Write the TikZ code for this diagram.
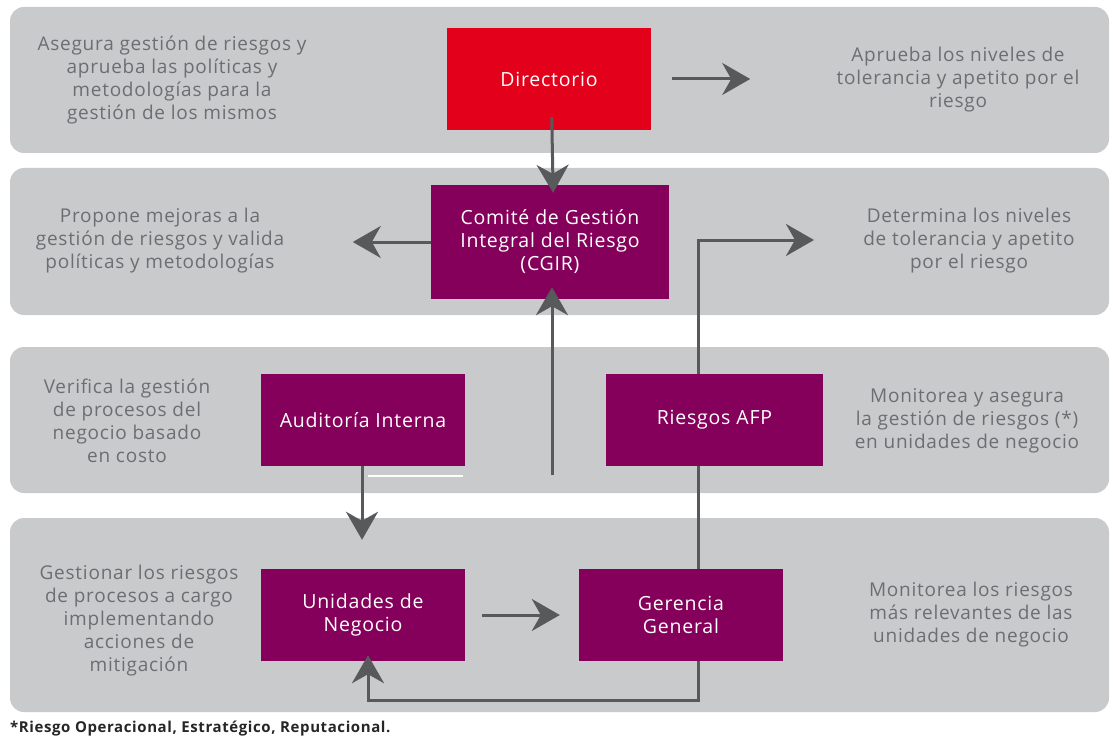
\documentclass[tikz,border=0pt]{standalone}
\usepackage{fontspec}
\setmainfont{Open Sans}
\newfontfamily\dfont[LetterSpace=4]{Open Sans}
\usetikzlibrary{arrows.meta}
\definecolor{bandgray}{HTML}{C9CACC}
\definecolor{txtgray}{HTML}{6D6E71}
\definecolor{arrgray}{HTML}{58595B}
\definecolor{boxred}{HTML}{E2001A}
\definecolor{boxpurple}{HTML}{85005A}
\tikzset{
  band/.style={fill=bandgray, draw=none, rounded corners=14pt},
  infobox/.style={draw=none, text=white, align=center, inner sep=0pt,
    font=\dfont\fontsize{19.5}{23}\selectfont},
  redbox/.style={infobox, fill=boxred},
  purplebox/.style={infobox, fill=boxpurple},
  desc/.style={text=txtgray, align=center, inner sep=0pt,
    font=\dfont\fontsize{19}{23}\selectfont},
  conn/.style={draw=arrgray, line width=3pt},
  arr/.style={conn, -{Stealth[length=28pt, width=32pt, inset=9pt]}},
}
\begin{document}
\begin{tikzpicture}[x=1pt, y=-1pt]
\useasboundingbox (0,0) rectangle (1113,738);
\fill[white] (0,0) rectangle (1113,738);
% bands
\path[band] (10,7) rectangle (1109,153);
\path[band] (10,168) rectangle (1109,315);
\path[band] (10,347) rectangle (1109,493);
\path[band] (10,518) rectangle (1109,712);

% coordinates
\coordinate (v) at (698,240);
\coordinate (rtip) at (814,240);
\coordinate (upstart) at (552,475);
\coordinate (bot) at (368,700);

% connector behind boxes
\draw[conn] (698,661) -- (698,374);

% boxes
\node[redbox, minimum width=204pt, minimum height=102pt] (dir) at (549,79) {Directorio};
\node[purplebox, minimum width=238pt, minimum height=114pt] (cgir) at (550,242)
  {Comité de Gestión\\Integral del Riesgo\\(CGIR)};
\node[purplebox, minimum width=204pt, minimum height=92pt] (aud) at (363,420) {Auditoría Interna};
\node[purplebox, minimum width=217pt, minimum height=92pt] (afp) at (714.5,420) {Riesgos AFP};
\node[purplebox, minimum width=204pt, minimum height=92pt] (un) at (363,615) {Unidades de\\Negocio};
\node[purplebox, minimum width=204pt, minimum height=92pt] (ger) at (681,615) {Gerencia\\General};

% descriptions
\node[desc] (d1l) at (172,80) {Asegura gestión de riesgos y\\aprueba las políticas y\\metodologías para la\\gestión de los mismos};
\node[desc] (d1r) at (958,80) {Aprueba los niveles de\\tolerancia y apetito por el\\riesgo};
\node[desc] (d2l) at (160,241) {Propone mejoras a la\\gestión de riesgos y valida\\políticas y metodologías};
\node[desc] (d2r) at (969,241) {Determina los niveles\\de tolerancia y apetito\\por el riesgo};
\node[desc] (d3l) at (127,421) {Verifica la gestión\\de procesos del\\negocio basado\\en costo};
\node[desc] (d3r) at (967,421) {Monitorea y asegura\\la gestión de riesgos (*)\\en unidades de negocio};
\node[desc] (d4l) at (139,621) {Gestionar los riesgos\\de procesos a cargo\\implementando\\acciones de\\mitigación};
\node[desc] (d4r) at (971,615) {Monitorea los riesgos\\más relevantes de las\\unidades de negocio};

\node[text=black!85, anchor=west, inner sep=0pt, font=\dfont\fontsize{15}{17}\selectfont\bfseries] (foot) at (10,729)
  {*Riesgo Operacional, Estratégico, Reputacional.};

% connectors
\draw[arr, shorten <=-13pt, shorten >=-8pt] ([xshift=3pt]dir.south) -- ([xshift=3pt]cgir.north);
\draw[arr] ([xshift=21pt]dir.east) -- ([xshift=99pt]dir.east);
\draw[arr] (cgir.west) -- ++(-78,0);
\draw[arr, shorten >=-12pt] (upstart) -- (upstart |- cgir.south);
\draw[arr] (afp.north -| v) |- (rtip);
\draw[arr, shorten >=-6pt] (ger.south -| v) |- (bot) -- (bot |- un.south);
\draw[arr, shorten >=29pt] ([xshift=-1pt]aud.south) -- ([xshift=-1pt]un.north);
\draw[arr, shorten <=17pt, shorten >=19pt] (un.east) -- (ger.west);
\draw[white, line width=1.5pt] (368,476) -- (463,476);
\end{tikzpicture}
\end{document}
